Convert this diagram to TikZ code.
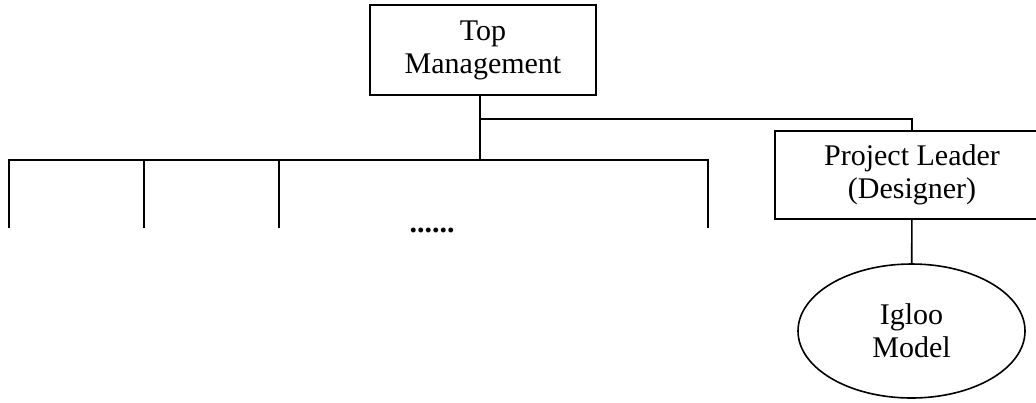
\documentclass[tikz,border=0pt]{standalone}
\usepackage{fontspec}
\setmainfont{Liberation Serif}
\usetikzlibrary{positioning,shapes}

\begin{document}
\begin{tikzpicture}[x=0.5pt,y=-0.5pt,line width=0.8pt,every text node part/.style={align=center},
    lbl/.style={font=\fontsize{15}{16.5}\selectfont,inner sep=0pt}]
    \useasboundingbox (0,0) rectangle (1036,402);

    \node[draw,lbl,minimum width=113pt,minimum height=45pt] (topmgmt) at (483,50) {Top\\ Management};
    \node[draw,lbl,minimum width=137pt,minimum height=44pt] (leader) at (912,175) {Project Leader\\ (Designer)};
    \node[draw,ellipse,lbl,minimum width=113.5pt,minimum height=67pt] (igloo) at (911.5,331) {Igloo\\ Model};
    \node[lbl] (dots) at (432,230) {\textbf{......}};

    \coordinate (hub) at (480,160);
    \coordinate (fork) at (480,119);
    \coordinate (dept1) at (9,228);
    \coordinate (dept2) at (144,228);
    \coordinate (dept3) at (279,228);
    \coordinate (dept4) at (708,228);

    \draw (topmgmt.south -| hub) -- (hub);
    \draw (dept1) -- (dept1 |- hub) -- (dept4 |- hub) -- (dept4);
    \draw (dept2) -- (dept2 |- hub);
    \draw (dept3) -- (dept3 |- hub);
    \draw (fork) -| (leader.north);
    \draw (leader) -- (igloo);

  \end{tikzpicture}
\end{document}
